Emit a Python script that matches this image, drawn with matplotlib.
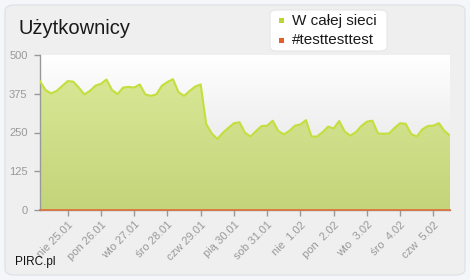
import numpy as np
import matplotlib
matplotlib.use("Agg")
import matplotlib.pyplot as plt
from matplotlib.patches import FancyBboxPatch, Rectangle
from matplotlib.colors import LinearSegmentedColormap

plt.rcParams['font.family'] = ['Liberation Sans', 'DejaVu Sans']

# Data: samples every 4 hours
users = [415, 387, 376, 384, 400, 416, 414, 395, 373, 384, 401, 407, 421, 387, 374,
         395, 397, 395, 405, 373, 368, 373, 401, 413, 422, 380, 368, 384, 398, 405,
         277, 247, 229, 249, 265, 280, 283, 249, 237, 255, 271, 272, 288, 255, 244,
         255, 272, 276, 290, 237, 237, 251, 269, 263, 287, 253, 240, 251, 271, 285,
         288, 247, 246, 247, 265, 280, 278, 245, 237, 260, 271, 272, 280, 255, 240]
channel = [0] * len(users)
day_labels = ["nie 25.01", "pon 26.01", "wto 27.01", "śro 28.01", "czw 29.01",
              "pią 30.01", "sob 31.01", "nie  1.02", "pon  2.02", "wto  3.02",
              "śro  4.02", "czw  5.02"]
first_tick_index = 5
samples_per_day = 6
y_ticks = [0, 125, 250, 375, 500]
series_names = ["W całej sieci", "#testtesttest"]

W, H = 470, 280
fig = plt.figure(figsize=(W / 100, H / 100), dpi=100)
fig.patch.set_facecolor('#f5f6fa')

# outer panel
panel = FancyBboxPatch((5 / W, 5 / H), 460 / W, 270 / H,
                       boxstyle="round,pad=0,rounding_size=0.02",
                       transform=fig.transFigure, facecolor='#efefef',
                       edgecolor='#e2e3ea', linewidth=1.0, zorder=-10)
fig.patches.append(panel)

ax = fig.add_axes([40 / W, 70 / H, 410 / W, 155 / H])
ax.set_zorder(1)
ax.set_facecolor('none')
x = np.arange(len(users))
ax.set_xlim(0, len(users) - 1)
ax.set_ylim(0, 500)

# plot background gradient
bg = np.linspace(1, 0, 256).reshape(-1, 1)
bg_cmap = LinearSegmentedColormap.from_list('bg', ['#dedede', '#ffffff'])
ax.imshow(bg, extent=[0, len(users) - 1, 0, 500], aspect='auto', cmap=bg_cmap,
          origin='upper', zorder=0, vmin=0, vmax=1)

# area fill with gradient
fill = ax.fill_between(x, 0, users, facecolor='none', edgecolor='none', zorder=1)
fg_cmap = LinearSegmentedColormap.from_list('fg', ['#c4d47a', '#d9e896'])
im = ax.imshow(np.linspace(0, 1, 256).reshape(-1, 1)[::-1], extent=[0, len(users) - 1, 0, 450],
               aspect='auto', cmap=fg_cmap, origin='upper', zorder=1, vmin=0, vmax=1)
path = fill.get_paths()[0]
im.set_clip_path(path, transform=ax.transData)
ax.set_xlim(0, len(users) - 1)
ax.set_ylim(0, 500)

ax.plot(x, users, color='#c4de3e', lw=1.5, zorder=3, solid_joinstyle='round')
ax.plot(x, channel, color='#e0703a', lw=1.2, zorder=4, clip_on=False)

for s in ['top', 'right']:
    ax.spines[s].set_visible(False)
for s in ['left', 'bottom']:
    ax.spines[s].set_color('#999999')
    ax.spines[s].set_linewidth(1.0)

ax.set_yticks(y_ticks)
ax.set_yticklabels([str(v) for v in y_ticks])
ticks = [first_tick_index + i * samples_per_day for i in range(len(day_labels))]
ax.set_xticks(ticks)
ax.set_xticklabels(day_labels, rotation=45, ha='right', va='top', rotation_mode='anchor')
ax.tick_params(axis='both', colors='#999999', labelcolor='#999999', labelsize=8,
               length=4, width=1)
ax.tick_params(axis='y', pad=5)
ax.tick_params(axis='x', pad=3)

# title
fig.text(18 / W, 1 - 28 / H, "Użytkownicy", fontsize=14.5, color='#1a1a1a',
         ha='left', va='center')

# legend box
leg = FancyBboxPatch((270 / W, 1 - 51 / H), 117 / W, 41 / H,
                     boxstyle="round,pad=0,rounding_size=0.015",
                     transform=fig.transFigure, facecolor='white',
                     edgecolor='#e6e6e6', linewidth=0.8, zorder=5)
fig.patches.append(leg)
colors = ['#b8d830', '#e2602a']
for i, (name, c) in enumerate(zip(series_names, colors)):
    yc = 1 - (20.5 + i * 20) / H
    fig.patches.append(Rectangle((279 / W, yc - 2.5 / H), 5 / W, 5 / H,
                                 transform=fig.transFigure, facecolor=c,
                                 edgecolor='none', zorder=6))
    fig.text(292 / W, yc, name, fontsize=11, color='#1a1a1a', ha='left',
             va='center', zorder=6)

fig.text(15 / W, 1 - 262 / H, "PIRC.pl", fontsize=8.5, color='#111111',
         ha='left', va='center')

fig.savefig('out.png', dpi=100, facecolor=fig.get_facecolor())
